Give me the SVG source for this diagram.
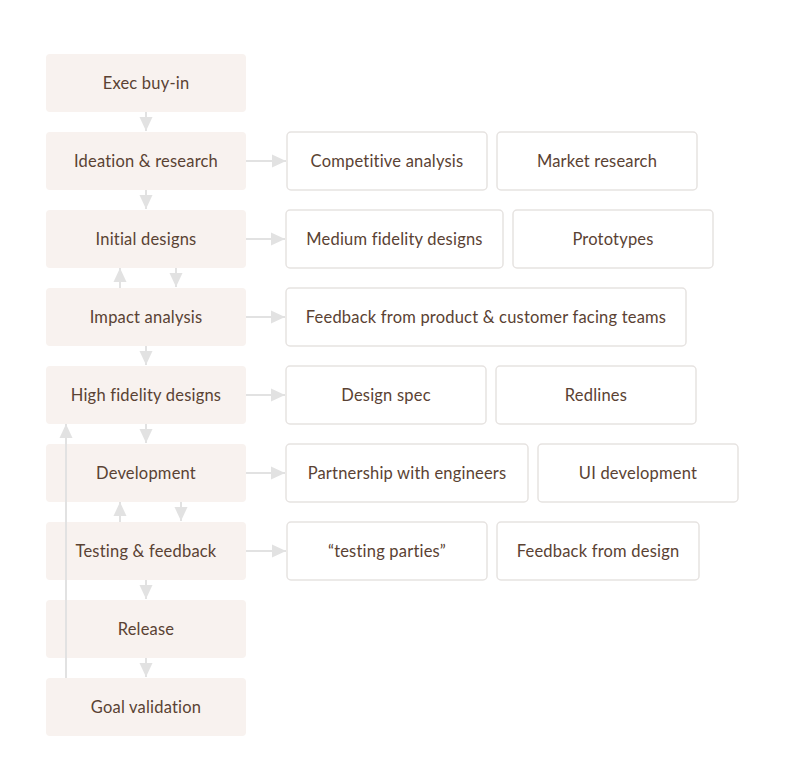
<svg xmlns="http://www.w3.org/2000/svg" width="788" height="777" viewBox="0 0 788 777">
<style>
.bg{fill:#ffffff}
.step{fill:#f8f2ef}
.item{fill:#ffffff;stroke:#e6e3e1;stroke-width:1.5}
.t{font-family:Lato,"Open Sans","Liberation Sans",sans-serif;font-size:16.5px;fill:#5a4233;text-anchor:middle;letter-spacing:0.2px}
.c{stroke:#e2e2e2;stroke-width:2;fill:none}
.h{fill:#e2e2e2}
</style>
<defs>
<marker id="ah" markerUnits="userSpaceOnUse" markerWidth="14" markerHeight="14" viewBox="0 0 14 14" refX="14" refY="7" orient="auto">
<path d="M0,0.5 L14,7 L0,13.5 Z" class="h"/>
</marker>
</defs>
<rect class="bg" x="0" y="0" width="788" height="777"/>
<g id="exec"><rect class="step" x="46" y="54" width="200" height="58" rx="4"/><text class="t" x="146" y="88.8">Exec buy-in</text></g>
<g id="ideation"><rect class="step" x="46" y="132" width="200" height="58" rx="4"/><text class="t" x="146" y="166.8">Ideation &amp; research</text></g>
<g id="initial"><rect class="step" x="46" y="210" width="200" height="58" rx="4"/><text class="t" x="146" y="244.8">Initial designs</text></g>
<g id="impact"><rect class="step" x="46" y="288" width="200" height="58" rx="4"/><text class="t" x="146" y="322.8">Impact analysis</text></g>
<g id="highfi"><rect class="step" x="46" y="366" width="200" height="58" rx="4"/><text class="t" x="146" y="400.8">High fidelity designs</text></g>
<g id="development"><rect class="step" x="46" y="444" width="200" height="58" rx="4"/><text class="t" x="146" y="478.8">Development</text></g>
<g id="testing"><rect class="step" x="46" y="522" width="200" height="58" rx="4"/><text class="t" x="146" y="556.8">Testing &amp; feedback</text></g>
<g id="release"><rect class="step" x="46" y="600" width="200" height="58" rx="4"/><text class="t" x="146" y="634.8">Release</text></g>
<g id="goal"><rect class="step" x="46" y="678" width="200" height="58" rx="4"/><text class="t" x="146" y="712.8">Goal validation</text></g>

<g id="competitive"><rect class="item" x="287" y="132" width="200" height="58" rx="4"/><text class="t" x="387" y="166.8">Competitive analysis</text></g>
<g id="market"><rect class="item" x="497" y="132" width="200" height="58" rx="4"/><text class="t" x="597" y="166.8">Market research</text></g>
<g id="medium"><rect class="item" x="286" y="210" width="217" height="58" rx="4"/><text class="t" x="394.5" y="244.8">Medium fidelity designs</text></g>
<g id="prototypes"><rect class="item" x="513" y="210" width="200" height="58" rx="4"/><text class="t" x="613" y="244.8">Prototypes</text></g>
<g id="feedback-teams"><rect class="item" x="286" y="288" width="400" height="58" rx="4"/><text class="t" x="486" y="322.8">Feedback from product &amp; customer facing teams</text></g>
<g id="designspec"><rect class="item" x="286" y="366" width="200" height="58" rx="4"/><text class="t" x="386" y="400.8">Design spec</text></g>
<g id="redlines"><rect class="item" x="496" y="366" width="200" height="58" rx="4"/><text class="t" x="596" y="400.8">Redlines</text></g>
<g id="partnership"><rect class="item" x="286" y="444" width="242" height="58" rx="4"/><text class="t" x="407" y="478.8">Partnership with engineers</text></g>
<g id="uidev"><rect class="item" x="538" y="444" width="200" height="58" rx="4"/><text class="t" x="638" y="478.8">UI development</text></g>
<g id="parties"><rect class="item" x="287" y="522" width="200" height="58" rx="4"/><text class="t" x="387" y="556.8">“testing parties”</text></g>
<g id="feedback-design"><rect class="item" x="497" y="522" width="202" height="58" rx="4"/><text class="t" x="598" y="556.8">Feedback from design</text></g>

<g id="connectors">
<line class="c" x1="146" y1="112" x2="146" y2="131" marker-end="url(#ah)"/>
<line class="c" x1="146" y1="190" x2="146" y2="209" marker-end="url(#ah)"/>
<line class="c" x1="120" y1="288" x2="120" y2="268" marker-end="url(#ah)"/>
<line class="c" x1="176" y1="268" x2="176" y2="287" marker-end="url(#ah)"/>
<line class="c" x1="146" y1="346" x2="146" y2="365" marker-end="url(#ah)"/>
<line class="c" x1="146" y1="424" x2="146" y2="443" marker-end="url(#ah)"/>
<line class="c" x1="120" y1="522" x2="120" y2="502" marker-end="url(#ah)"/>
<line class="c" x1="181" y1="502" x2="181" y2="521" marker-end="url(#ah)"/>
<line class="c" x1="146" y1="580" x2="146" y2="599" marker-end="url(#ah)"/>
<line class="c" x1="146" y1="658" x2="146" y2="677" marker-end="url(#ah)"/>
<line class="c" x1="66" y1="678" x2="66" y2="424" marker-end="url(#ah)"/>
<line class="c" x1="246" y1="161" x2="286" y2="161" marker-end="url(#ah)"/>
<line class="c" x1="246" y1="239" x2="285" y2="239" marker-end="url(#ah)"/>
<line class="c" x1="246" y1="317" x2="285" y2="317" marker-end="url(#ah)"/>
<line class="c" x1="246" y1="395" x2="285" y2="395" marker-end="url(#ah)"/>
<line class="c" x1="246" y1="473" x2="285" y2="473" marker-end="url(#ah)"/>
<line class="c" x1="246" y1="551" x2="286" y2="551" marker-end="url(#ah)"/>
</g>
</svg>
